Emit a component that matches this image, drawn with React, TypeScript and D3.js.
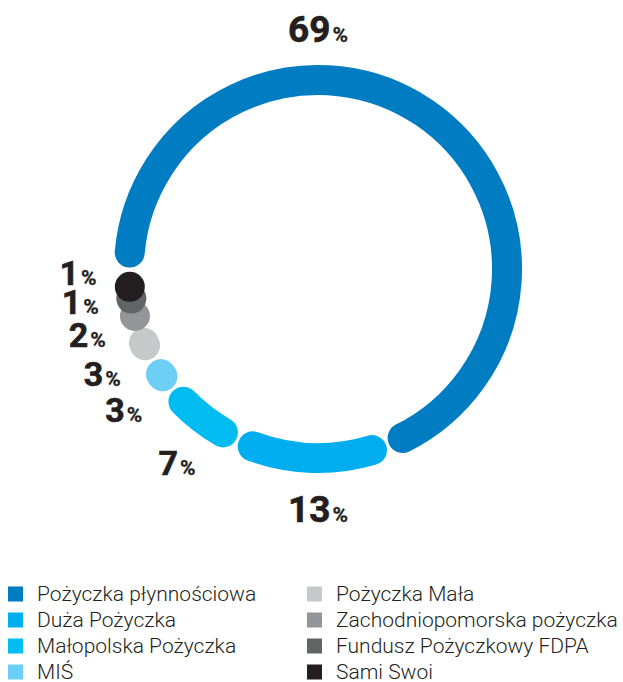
import React from "react";
import * as d3 from "d3";

const categories = [
  "Pożyczka płynnościowa",
  "Duża Pożyczka",
  "Małopolska Pożyczka",
  "MIŚ",
  "Pożyczka Mała",
  "Zachodniopomorska pożyczka",
  "Fundusz Pożyczkowy FDPA",
  "Sami Swoi",
];
const values = [69, 13, 7, 3, 3, 2, 1, 1];
const colors = [
  "#007cc3",
  "#00aeef",
  "#00bcf1",
  "#6dcff6",
  "#c7c8ca",
  "#939598",
  "#636466",
  "#231f20",
];
// label anchor angles (degrees, clockwise from 12 o'clock)
const labelAngles = [0, 180, 216, 234, 244, 254, 262, 269];

const W = 623;
const H = 682;
const cx = 318;
const cy = 269;
const R = 189;
const SW = 30;
const LABEL_R = 240;
const textColor = "#231f20";

export default function App() {
  const total = 100;
  const start = -Math.PI / 2;
  const pie = d3
    .pie<number>()
    .sort(null)
    .startAngle(start)
    .endAngle(start + (2 * Math.PI * d3.sum(values)) / total);
  const arcs = pie(values);
  const off = (SW / 2 + 1.5) / R;
  const pt = (a: number, r: number) => [cx + r * Math.sin(a), cy - r * Math.cos(a)];

  const legendRows = 4;
  const legendX = [8, 307];
  const legendY0 = 601;
  const legendDY = 26;

  return (
    <div style={{ position: "absolute", left: 0, top: 0 }}>
      <svg width={W} height={H} style={{ display: "block" }}>
        <rect width={W} height={H} fill="#fff" />
        {arcs.map((a, i) => {
          const a0 = a.startAngle + off;
          const a1 = a.endAngle - off;
          if (a1 <= a0) {
            const m = (a.startAngle + a.endAngle) / 2;
            const [x, y] = pt(m, R);
            return <circle key={i} cx={x} cy={y} r={SW / 2} fill={colors[i]} />;
          }
          const p = d3.path();
          const [x0, y0] = pt(a0, R);
          p.moveTo(x0, y0);
          p.arc(cx, cy, R, a0 - Math.PI / 2, a1 - Math.PI / 2, false);
          return (
            <path
              key={i}
              d={p.toString()}
              fill="none"
              stroke={colors[i]}
              strokeWidth={SW}
              strokeLinecap="round"
            />
          );
        })}
        {values.map((v, i) => {
          const ang = (labelAngles[i] * Math.PI) / 180;
          const big = v >= 10;
          const fs = big ? 37 : 34;
          const [x, y] = pt(ang, LABEL_R);
          return (
            <text
              key={i}
              x={x}
              y={y + (fs * 0.711) / 2}
              textAnchor="middle"
              fill={textColor}
              fontFamily="Roboto, 'Open Sans', sans-serif"
              fontWeight={700}
              stroke={textColor}
              strokeWidth={0.6}
            >
              <tspan fontSize={fs}>{v}</tspan>
              <tspan fontSize={21} dx={2} strokeWidth={0.3}>%</tspan>
            </text>
          );
        })}
        {categories.map((c, i) => {
          const col = Math.floor(i / legendRows);
          const row = i % legendRows;
          const x = legendX[col];
          const y = legendY0 + row * legendDY;
          return (
            <g key={c}>
              <rect x={x} y={y - 14.5} width={15} height={15} fill={colors[i]} />
              <text
                x={x + 29}
                y={y}
                fontSize={21}
                fontWeight={300}
                fontFamily="Roboto, sans-serif"
                fill={textColor}
              >
                {c}
              </text>
            </g>
          );
        })}
      </svg>
    </div>
  );
}
